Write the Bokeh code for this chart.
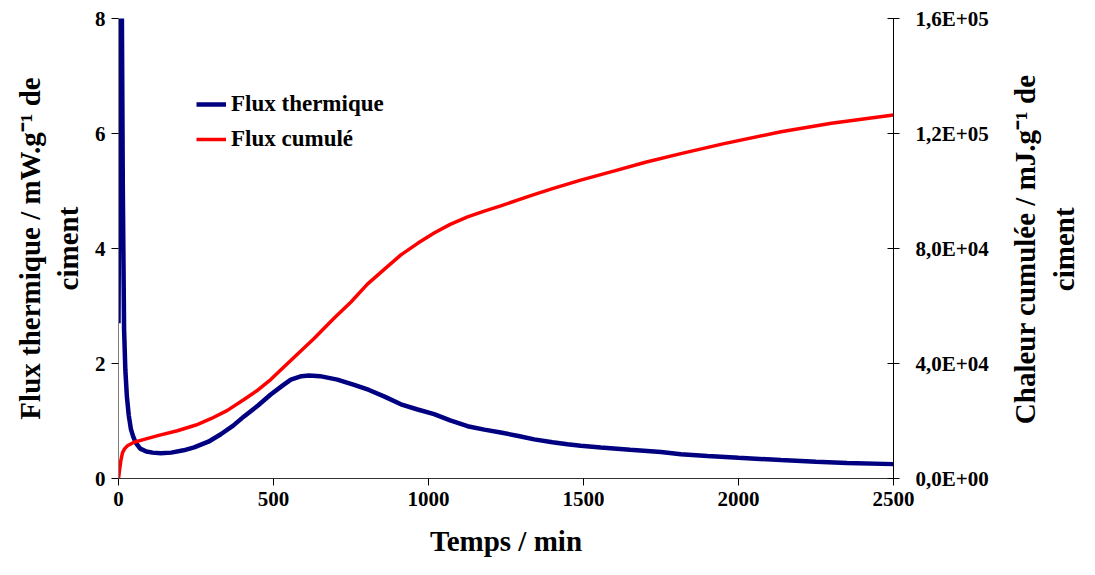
import math
from bokeh.plotting import figure
from bokeh.layouts import row
from bokeh.models import (Range1d, LinearAxis, FixedTicker, Legend, LegendItem,
                          Label)
from bokeh.embed import file_html
from bokeh.resources import INLINE

# ---- data ----
t_flux = [0, 3, 6, 11, 14, 18, 22, 27, 33, 40, 48, 56, 70, 90, 110, 136, 170,
          210, 244, 290, 330, 370, 405, 450, 491, 530, 556, 590, 615, 650, 706,
          760, 808, 860, 911, 965, 1018, 1070, 1126, 1180, 1233, 1290, 1341,
          1400, 1448, 1491, 1556, 1650, 1750, 1814, 1900, 2000, 2137, 2250,
          2350, 2500]
flux = [2.7, 6.0, 9.5, 8.0, 5.0, 2.6, 1.9, 1.43, 1.1, 0.86, 0.72, 0.62, 0.52,
        0.47, 0.45, 0.44, 0.45, 0.49, 0.54, 0.64, 0.77, 0.92, 1.08, 1.27, 1.46,
        1.62, 1.72, 1.78, 1.79, 1.78, 1.72, 1.63, 1.54, 1.42, 1.29, 1.20, 1.12,
        1.01, 0.91, 0.85, 0.80, 0.74, 0.68, 0.63, 0.595, 0.57, 0.54, 0.50,
        0.46, 0.42, 0.39, 0.36, 0.32, 0.29, 0.27, 0.25]

t_cum = [0, 4, 7.5, 13, 20, 29, 50, 83, 130, 190, 250, 298, 350, 405, 450,
         491, 530, 577, 630, 696, 750, 803, 860, 911, 965, 1018, 1070, 1126,
         1180, 1233, 1330, 1400, 1491, 1600, 1700, 1814, 1950, 2137, 2300, 2500]
cum = [0, 3400, 6200, 9000, 10400, 11400, 12600, 13600, 15000, 16600, 18600,
       20800, 23600, 27500, 30800, 34400, 38400, 43200, 48600, 55800, 61400,
       67600, 73000, 77800, 81800, 85400, 88400, 91000, 93000, 94800, 98400,
       100800, 103800, 107000, 110000, 113000, 116400, 120600, 123600, 126400]

x_ticks = [0, 500, 1000, 1500, 2000, 2500]
left_ticks = [0, 2, 4, 6, 8]
right_ticks = [0, 40000, 80000, 120000, 160000]
right_tick_labels = ["0,0E+00", "4,0E+04", "8,0E+04", "1,2E+05", "1,6E+05"]

series_names = ["Flux thermique", "Flux cumulé"]
x_title = "Temps / min"
left_title = "Flux thermique / mW.g\u207b\u00b9 de\nciment"
right_title = "Chaleur cumulée / mJ.g\u207b\u00b9 de\nciment"

FONT = "Liberation Serif"
TOTAL_W, H = 1079, 559
MAIN_W = 1002
BORDER_L, BORDER_T, BORDER_B = 118, 18, 80
FRAME_H = H - BORDER_T - BORDER_B

p = figure(width=MAIN_W, height=H, output_backend="svg", toolbar_location=None,
           x_range=Range1d(0, 2500), y_range=Range1d(0, 8),
           min_border_left=BORDER_L, min_border_right=MAIN_W - BORDER_L - 775,
           min_border_top=BORDER_T, min_border_bottom=BORDER_B)
p.xgrid.visible = False
p.ygrid.visible = False
p.outline_line_color = None
p.background_fill_color = "white"
p.border_fill_color = "white"

p.extra_y_ranges = {"cum": Range1d(0, 160000)}

r_flux = p.line(t_flux, flux, line_color="#000080", line_width=4.5)
r_cum = p.line(t_cum, cum, line_color="#FF0000", line_width=3.5,
               y_range_name="cum")

right_axis = LinearAxis(y_range_name="cum")
p.add_layout(right_axis, "right")


def style_axis(ax, ticks, line_color="black"):
    ax.ticker = FixedTicker(ticks=ticks)
    ax.minor_tick_line_color = None
    ax.axis_line_color = line_color
    ax.major_tick_line_color = "black"
    ax.major_label_text_font = FONT
    ax.major_label_text_font_style = "bold"
    ax.major_label_text_font_size = "21px"
    ax.major_label_text_color = "black"
    ax.axis_label_text_font = FONT
    ax.axis_label_text_font_style = "bold"
    ax.axis_label_text_font_size = "29px"
    ax.axis_label_text_color = "black"


xa = p.xaxis[0]
style_axis(xa, x_ticks, "#333333")
xa.major_tick_out = 7
xa.major_tick_in = 0
xa.major_label_standoff = 6
xa.axis_label = x_title
xa.axis_label_standoff = 16

ya = p.yaxis[0]
style_axis(ya, left_ticks, "#808080")
ya.major_tick_out = 7
ya.major_tick_in = 0
ya.major_label_standoff = 6
ya.axis_label = left_title
ya.axis_label_standoff = 8

style_axis(right_axis, right_ticks, "black")
right_axis.major_tick_out = 6
right_axis.major_tick_in = 6
right_axis.major_label_standoff = 16
right_axis.major_label_overrides = {t: l for t, l in zip(right_ticks, right_tick_labels)}

legend = Legend(items=[LegendItem(label=series_names[0], renderers=[r_flux]),
                       LegendItem(label=series_names[1], renderers=[r_cum])],
                location=(78, 324))
legend.background_fill_alpha = 0
legend.border_line_alpha = 0
legend.padding = 0
legend.margin = 0
legend.spacing = 5
legend.glyph_width = 30
legend.glyph_height = 30
legend.label_height = 30
legend.label_standoff = 5
legend.label_text_font = FONT
legend.label_text_font_style = "bold"
legend.label_text_font_size = "23px"
legend.label_text_color = "black"
p.add_layout(legend, "center")

# narrow side panel carrying the right-hand title (reads bottom-to-top)
side_w = TOTAL_W - MAIN_W
p2 = figure(width=side_w, height=H, output_backend="svg", toolbar_location=None,
            x_range=Range1d(0, side_w), y_range=Range1d(0, H),
            min_border=0)
p2.axis.visible = False
p2.grid.visible = False
p2.outline_line_color = None
p2.background_fill_color = "white"
p2.border_fill_color = "white"
right_lbl = Label(x=side_w - 35, y=BORDER_B + FRAME_H / 2 - 32,
                  text=right_title, angle=math.pi / 2, text_align="center",
                  text_baseline="middle", text_font=FONT,
                  text_font_style="bold", text_font_size="29px",
                  text_color="black")
p2.add_layout(right_lbl)

layout = row(p, p2, spacing=0)
open("out.html", "w").write(file_html(layout, INLINE))
